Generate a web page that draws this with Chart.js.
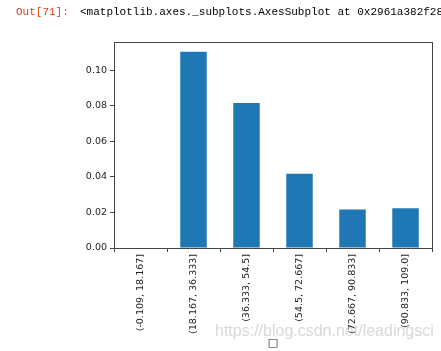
<!DOCTYPE html>
<html>
<head>
<meta charset="utf-8">
<script src="https://cdn.jsdelivr.net/npm/chart.js@4/dist/chart.umd.min.js"></script>
<style>
html,body{margin:0;padding:0;background:#fff;}
#wrap{position:relative;width:441px;height:351px;overflow:hidden;}
#c{position:absolute;left:0;top:0;}
#out{position:absolute;left:16px;top:6px;font-family:"Liberation Mono","DejaVu Sans Mono",monospace;font-size:11px;color:#d84315;white-space:nowrap;}
#repr{position:absolute;left:80px;top:6px;font-family:"Liberation Mono","DejaVu Sans Mono",monospace;font-size:11px;color:#000;white-space:nowrap;}
#wm{position:absolute;left:215px;top:322px;font-family:"Liberation Sans",Arial,sans-serif;font-size:16px;color:rgba(200,200,200,0.7);white-space:nowrap;}
</style>
</head>
<body>
<div id="wrap">
<canvas id="c" width="441" height="351"></canvas>
<div id="out">Out[71]:</div>
<div id="repr">&lt;matplotlib.axes._subplots.AxesSubplot at 0x2961a382f28&gt;</div>
<div id="wm">https://blog.csdn.net/leadingsci</div>
</div>
<script>
const categories = ["(-0.109, 18.167]", "(18.167, 36.333]", "(36.333, 54.5]", "(54.5, 72.667]", "(72.667, 90.833]", "(90.833, 109.0]"];
const values = [0.0, 0.1103, 0.0815, 0.0417, 0.0217, 0.0224];
const yTicks = [0.00, 0.02, 0.04, 0.06, 0.08, 0.10];
const xAxisLabel = "\u25A1";

const frame = {
  id: 'frame',
  afterDraw(chart) {
    const a = chart.chartArea, ctx = chart.ctx;
    ctx.save();
    ctx.strokeStyle = '#444';
    ctx.lineWidth = 1;
    ctx.strokeRect(Math.round(a.left) + 0.5, Math.round(a.top) + 0.5, Math.round(a.right - a.left), Math.round(a.bottom - a.top));
    ctx.fillStyle = '#222';
    ctx.font = '11px "DejaVu Sans"';
    ctx.textAlign = 'center';
    ctx.textBaseline = 'middle';
    ctx.fillText(xAxisLabel, (a.left + a.right) / 2, 343);
    ctx.restore();
  }
};

new Chart(document.getElementById('c'), {
  type: 'bar',
  data: {
    labels: categories,
    datasets: [{ data: values, backgroundColor: '#1f77b4', borderWidth: 0, barPercentage: 0.5, categoryPercentage: 1.0 }]
  },
  options: {
    responsive: false,
    animation: false,
    layout: { padding: { left: 0, top: 42, right: 9, bottom: 0 } },
    plugins: { legend: { display: false }, tooltip: { enabled: false } },
    scales: {
      x: {
        grid: { display: true, drawOnChartArea: false, tickLength: 4, color: '#444' },
        border: { display: false },
        ticks: { minRotation: 90, maxRotation: 90, autoSkip: false, padding: 2, color: '#222', font: { family: 'DejaVu Sans', size: 9.5 } },
        afterFit(s) { s.height = 103; }
      },
      y: {
        min: 0, max: 0.1158,
        grid: { display: true, drawOnChartArea: false, tickLength: 4, color: '#444' },
        border: { display: false },
        afterBuildTicks(s) { s.ticks = yTicks.map(v => ({ value: v })); },
        ticks: { padding: 3, color: '#222', font: { family: 'DejaVu Sans', size: 9.5 }, callback: v => Number(v).toFixed(2) },
        afterFit(s) { s.width = 114; }
      }
    }
  },
  plugins: [frame]
});
</script>
</body>
</html>
